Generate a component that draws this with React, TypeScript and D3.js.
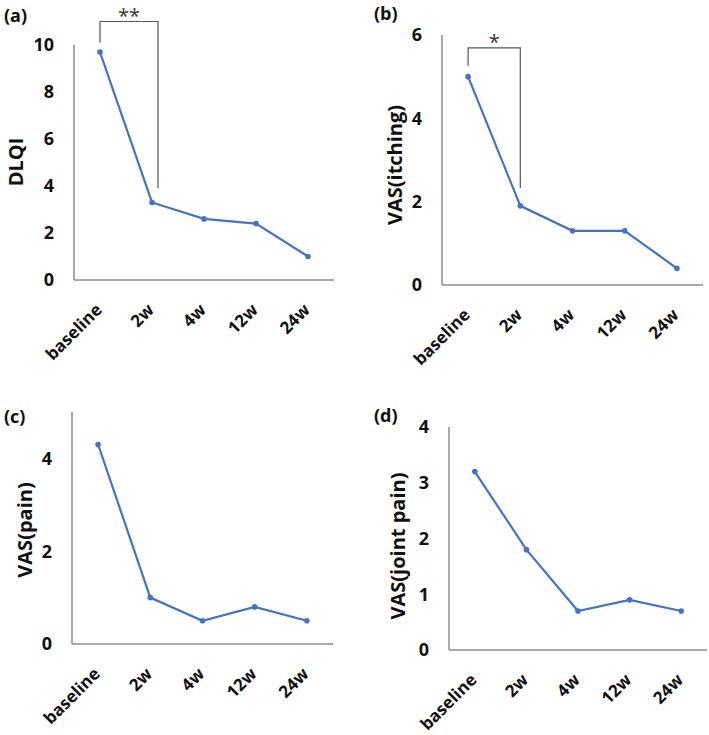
import React, { useEffect, useRef } from "react";
import * as d3 from "d3";

// time points
const categories = ["baseline", "2w", "4w", "12w", "24w"];

// series values
const dlqi = [9.7, 3.3, 2.6, 2.4, 1.0];
const vasItching = [5.0, 1.9, 1.3, 1.3, 0.4];
const vasPain = [4.3, 1.0, 0.5, 0.8, 0.5];
const vasJointPain = [3.2, 1.8, 0.7, 0.9, 0.7];

// y tick labels
const dlqiTicks = [0, 2, 4, 6, 8, 10];
const itchingTicks = [0, 2, 4, 6];
const painTicks = [0, 2, 4];
const jointTicks = [0, 1, 2, 3, 4];

interface Bracket {
  stars: string;
  top: number;
  leftBottom: number;
  rightBottom: number;
  rightShift: number;
}

interface Panel {
  tag: string;
  yLabel: string;
  values: number[];
  ticks: number[];
  yMax: number;
  left: number;
  right: number;
  top: number;
  bottom: number;
  tagPos: [number, number];
  yLabelPos: [number, number];
  bracket?: Bracket;
}

const panels: Panel[] = [
  {
    tag: "(a)", yLabel: "DLQI", values: dlqi, ticks: dlqiTicks, yMax: 10,
    left: 74, right: 334, top: 45, bottom: 280,
    tagPos: [4, 22], yLabelPos: [23, 162],
    bracket: { stars: "**", top: 11.0, leftBottom: 10.1, rightBottom: 3.9, rightShift: 6 },
  },
  {
    tag: "(b)", yLabel: "VAS(itching)", values: vasItching, ticks: itchingTicks, yMax: 6,
    left: 442, right: 703, top: 35, bottom: 285,
    tagPos: [374, 20], yLabelPos: [402, 165],
    bracket: { stars: "*", top: 5.69, leftBottom: 5.26, rightBottom: 2.33, rightShift: 0 },
  },
  {
    tag: "(c)", yLabel: "VAS(pain)", values: vasPain, ticks: painTicks, yMax: 5,
    left: 72, right: 333, top: 412, bottom: 644,
    tagPos: [4, 423], yLabelPos: [32, 530],
  },
  {
    tag: "(d)", yLabel: "VAS(joint pain)", values: vasJointPain, ticks: jointTicks, yMax: 4,
    left: 449, right: 707, top: 427, bottom: 650,
    tagPos: [374, 422], yLabelPos: [405, 546],
  },
];

const FONT = "'Open Sans', 'Noto Sans', sans-serif";
const LINE = "#4472c4";
const AXIS = "#8c8c8c";

export default function App() {
  const svgRef = useRef<SVGSVGElement | null>(null);

  useEffect(() => {
    if (!svgRef.current) return;
    const svg = d3.select(svgRef.current);
    svg.selectAll("*").remove();

    panels.forEach((p) => {
      const x = d3.scaleBand().domain(categories).range([p.left, p.right]);
      const y = d3.scaleLinear().domain([0, p.yMax]).range([p.bottom, p.top]);
      const cx = (c: string) => (x(c) as number) + x.bandwidth() / 2;
      const g = svg.append("g");

      // panel tag
      g.append("text")
        .attr("x", p.tagPos[0])
        .attr("y", p.tagPos[1])
        .attr("font-family", FONT)
        .attr("font-weight", 700)
        .attr("font-size", 18)
        .attr("fill", "#111")
        .text(p.tag);

      // axes
      g.append("line")
        .attr("x1", p.left).attr("x2", p.left)
        .attr("y1", p.top).attr("y2", p.bottom)
        .attr("stroke", AXIS).attr("stroke-width", 1.5);
      g.append("line")
        .attr("x1", p.left).attr("x2", p.right)
        .attr("y1", p.bottom).attr("y2", p.bottom)
        .attr("stroke", AXIS).attr("stroke-width", 1.5);

      // y tick labels
      g.selectAll(".yt")
        .data(p.ticks)
        .enter()
        .append("text")
        .attr("x", p.left - 20)
        .attr("y", (d) => y(d))
        .attr("dy", "0.36em")
        .attr("text-anchor", "end")
        .attr("font-family", FONT)
        .attr("font-weight", 700)
        .attr("font-size", 18)
        .attr("fill", "#111")
        .text((d) => d);

      // x tick labels
      g.selectAll(".xt")
        .data(categories)
        .enter()
        .append("text")
        .attr("transform", (d) => `translate(${cx(d) + 3},${p.bottom + 31}) rotate(-45)`)
        .attr("text-anchor", "end")
        .attr("font-family", FONT)
        .attr("font-weight", 700)
        .attr("font-size", 17)
        .attr("fill", "#111")
        .text((d) => d);

      // y label
      g.append("text")
        .attr("transform", `translate(${p.yLabelPos[0]},${p.yLabelPos[1]}) rotate(-90)`)
        .attr("text-anchor", "middle")
        .attr("font-family", FONT)
        .attr("font-weight", 700)
        .attr("font-size", 20)
        .attr("fill", "#111")
        .text(p.yLabel);

      // series line
      const line = d3
        .line<number>()
        .x((_, i) => cx(categories[i]))
        .y((d) => y(d));
      g.append("path")
        .attr("d", line(p.values) || "")
        .attr("fill", "none")
        .attr("stroke", LINE)
        .attr("stroke-width", 2.2);
      g.selectAll(".pt")
        .data(p.values)
        .enter()
        .append("circle")
        .attr("cx", (_, i) => cx(categories[i]))
        .attr("cy", (d) => y(d))
        .attr("r", 2.8)
        .attr("fill", LINE);

      // significance bracket
      if (p.bracket) {
        const b = p.bracket;
        const lx = cx(categories[0]);
        const rx = cx(categories[1]) + b.rightShift;
        g.append("path")
          .attr("d", `M${lx},${y(b.leftBottom)}V${y(b.top)}H${rx}V${y(b.rightBottom)}`)
          .attr("fill", "none")
          .attr("stroke", "#555")
          .attr("stroke-width", 1.2);
        g.append("text")
          .attr("x", (lx + rx) / 2)
          .attr("y", y(b.top) + 1)
          .attr("text-anchor", "middle")
          .attr("font-family", FONT)
          .attr("font-size", 20)
          .attr("fill", "#333")
          .text(b.stars);
      }
    });
  }, []);

  return (
    <div style={{ position: "absolute", left: 0, top: 0, background: "#fff" }}>
      <svg ref={svgRef} width={709} height={735} style={{ display: "block" }} />
    </div>
  );
}
